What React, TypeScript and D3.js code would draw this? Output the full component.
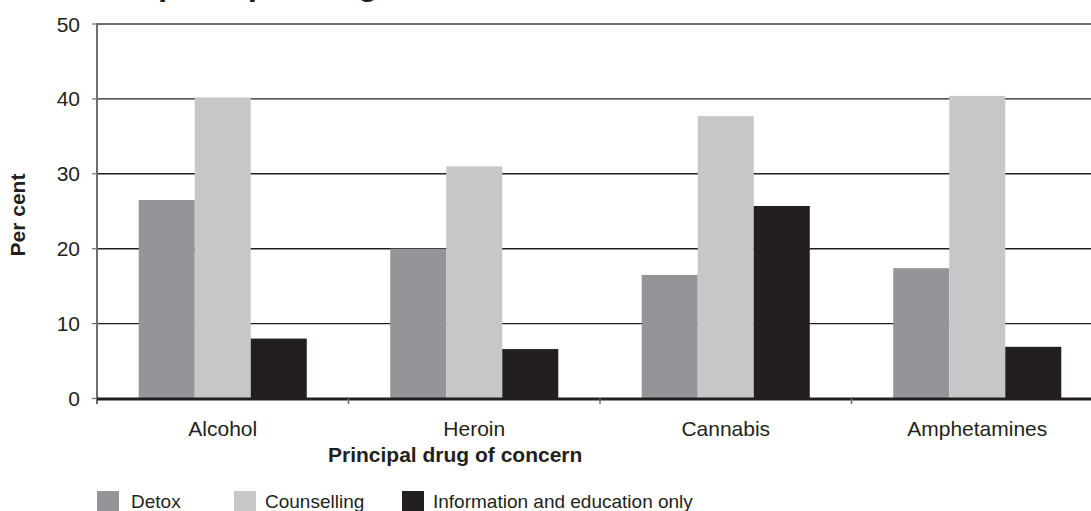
import React from "react";
import * as d3 from "d3";

const categories = ["Alcohol", "Heroin", "Cannabis", "Amphetamines"];
const seriesNames = ["Detox", "Counselling", "Information and education only"];
const detox = [26.5, 20.0, 16.5, 17.4];
const counselling = [40.2, 31.0, 37.7, 40.4];
const infoEducation = [8.0, 6.6, 25.7, 6.9];
const yTicks = [0, 10, 20, 30, 40, 50];
const colors = ["#939598", "#c6c7c9", "#231f20"];

const W = 1091;
const H = 511;
const FONT = "'Liberation Sans', Arial, Helvetica, sans-serif";
const INK = "#231f20";

export default function App() {
  const values = [detox, counselling, infoEducation];
  const left = 97;
  const step = 251.5;
  const x = d3
    .scaleBand<string>()
    .domain(categories)
    .range([left, left + step * categories.length])
    .padding(0);
  const xs = d3
    .scaleBand<string>()
    .domain(seriesNames)
    .range([0, x.bandwidth()])
    .paddingInner(0)
    .paddingOuter(0.745);
  const y = d3.scaleLinear().domain([0, 50]).range([398.5, 24]);

  const boundaries = categories.map((c) => x(c)!).concat([left + step * categories.length]);

  return (
    <svg
      width={W}
      height={H}
      style={{ position: "absolute", left: 0, top: 0, display: "block", background: "#fff" }}
      fontFamily={FONT}
    >
      {/* title, mostly above the visible area */}
      <text x={158} y={-5} fontSize={33} fontWeight="bold" fill={INK}>
        principal drug,
      </text>

      {/* gridlines */}
      {yTicks
        .filter((t) => t > 0)
        .map((t) => (
          <line
            key={t}
            x1={left}
            x2={W}
            y1={y(t)}
            y2={y(t)}
            stroke={t === 50 ? "#6d6e70" : INK}
            strokeWidth={t === 50 ? 2 : 1.4}
          />
        ))}

      {/* bars */}
      {categories.map((c, ci) =>
        seriesNames.map((s, si) => (
          <rect
            key={c + s}
            x={x(c)! + xs(s)!}
            width={xs.bandwidth()}
            y={y(values[si][ci])}
            height={y(0) - y(values[si][ci])}
            fill={colors[si]}
          />
        ))
      )}

      {/* y axis */}
      <line x1={left} x2={left} y1={y(50) - 1} y2={404} stroke="#6d6e70" strokeWidth={2} />
      {yTicks.map((t) => (
        <g key={t}>
          <line x1={92} x2={left} y1={y(t)} y2={y(t)} stroke="#6d6e70" strokeWidth={1.2} />
          <text
            x={80}
            y={y(t)}
            dy="0.36em"
            textAnchor="end"
            fontSize={21}
            fill={INK}
          >
            {t}
          </text>
        </g>
      ))}

      {/* x baseline */}
      <line x1={left} x2={W} y1={y(0) + 0.5} y2={y(0) + 0.5} stroke={INK} strokeWidth={3} />
      {boundaries.slice(1).map((b, i) => (
        <line key={i} x1={b} x2={b} y1={y(0)} y2={404} stroke="#6d6e70" strokeWidth={1.5} />
      ))}

      {/* category labels */}
      {categories.map((c) => (
        <text
          key={c}
          x={x(c)! + x.bandwidth() / 2}
          y={436}
          textAnchor="middle"
          fontSize={21}
          fill={INK}
        >
          {c}
        </text>
      ))}

      {/* axis titles */}
      <text x={328} y={462} textAnchor="start" fontSize={21} fontWeight="bold" fill={INK}>
        Principal drug of concern
      </text>
      <text
        transform={`translate(25,215) rotate(-90)`}
        textAnchor="middle"
        fontSize={21}
        fontWeight="bold"
        fill={INK}
      >
        Per cent
      </text>

      {/* legend */}
      {[
        { sx: 97, tx: 131 },
        { sx: 234, tx: 265 },
        { sx: 402, tx: 433 },
      ].map((p, i) => (
        <g key={i}>
          <rect x={p.sx} y={491} width={22} height={20} fill={colors[i]} />
          <text x={p.tx} y={508} fontSize={19} fill={INK}>
            {seriesNames[i]}
          </text>
        </g>
      ))}
    </svg>
  );
}
